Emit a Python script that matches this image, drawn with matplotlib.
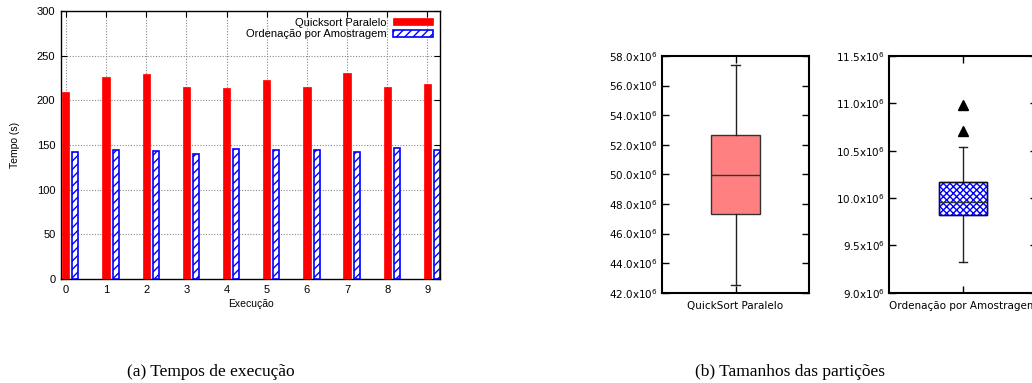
import numpy as np
import matplotlib
matplotlib.use('Agg')
import matplotlib.pyplot as plt
from matplotlib.ticker import FuncFormatter

# execution times (s)
runs = np.arange(10)
quick = [209, 226, 229, 215, 213.5, 222.5, 215, 230.5, 215, 218.5]
amostra = [142, 144.2, 143.1, 139.8, 145, 143.9, 143.9, 142, 146.8, 144.2]

# partition sizes (box stats)
qs_box = dict(med=49.97e6, q1=47.30e6, q3=52.65e6, whislo=42.53e6, whishi=57.42e6,
              fliers=[], label='QuickSort Paralelo')
am_box = dict(med=9.962e6, q1=9.82e6, q3=10.166e6, whislo=9.327e6, whishi=10.54e6,
              fliers=[10.979e6, 10.708e6], label='Ordenação por Amostragem')

plt.rcParams['hatch.linewidth'] = 1.0
fig = plt.figure(figsize=(10.32, 3.83), dpi=100)

# ---- (a) bar chart ----
ax = fig.add_axes([0.0591, 0.2715, 0.3672, 0.6997])
hfont = 'Liberation Sans'
ax.bar(runs, quick, width=0.18, color='#ff0000', edgecolor='#ff0000', lw=0.5,
       label='Quicksort Paralelo', zorder=3)
ax.bar(runs + 0.24, amostra, width=0.15, color='white', edgecolor='#0000ff', lw=1.2,
       hatch='////', label='Ordenação por Amostragem', zorder=3)
ax.set_xlim(-0.12, 9.31)
ax.set_ylim(0, 300)
ax.set_xticks(runs)
ax.set_yticks(np.arange(0, 301, 50))
ax.grid(True, color='#888888', ls=(0, (1, 1.5)), lw=0.8, zorder=0)
ax.tick_params(direction='in', top=True, right=True, length=4, width=0.8,
               labelsize=8, pad=4)
for t in ax.get_xticklabels() + ax.get_yticklabels():
    t.set_fontfamily(hfont)
ax.set_xlabel('Execução', fontsize=7.5, family=hfont, labelpad=3)
ax.set_ylabel('Tempo (s)', fontsize=7.5, family=hfont, labelpad=12)
for s in ax.spines.values():
    s.set_linewidth(1.0)
leg = ax.legend(loc='upper right', frameon=False, markerfirst=False,
                prop={'family': hfont, 'size': 8}, handlelength=3.6, handleheight=0.6,
                borderaxespad=0.2, labelspacing=0.15, handletextpad=0.6)

# ---- (b) box plots ----
def fmt_mill(dec):
    return FuncFormatter(lambda v, p: ('%.' + str(dec) + 'f') % (v / 1e6) + 'x10$^6$')

def box_axes(rect, stats, ylim, step, dec, face, hatch):
    bx = fig.add_axes(rect)
    bp = bx.bxp([stats], positions=[1], widths=0.33, patch_artist=True,
                showfliers=True,
                boxprops=dict(facecolor=face, edgecolor='#333333', lw=1.0, hatch=hatch),
                medianprops=dict(color='#333333', lw=1.0),
                whiskerprops=dict(color='#222222', lw=1.0),
                capprops=dict(color='#222222', lw=1.0),
                flierprops=dict(marker='^', markerfacecolor='black',
                                markeredgecolor='black', markersize=7))
    for c in bp['caps']:
        m = np.mean(c.get_xdata())
        c.set_xdata([m - 0.03, m + 0.03])
    bx.set_xlim(0.5, 1.5)
    bx.set_ylim(*ylim)
    bx.set_yticks(np.arange(ylim[0], ylim[1] + step / 2, step))
    bx.yaxis.set_major_formatter(fmt_mill(dec))
    bx.tick_params(direction='in', top=True, right=True, length=5, width=1.0,
                   labelsize=7.5, pad=3)
    bx.tick_params(axis='x', pad=6)
    for s in bx.spines.values():
        s.set_linewidth(1.5)
    return bx, bp

bx1, bp1 = box_axes([0.6412, 0.2358, 0.1430, 0.618], qs_box, (42e6, 58e6), 2e6, 1,
                    '#ff8080', None)
bx2, bp2 = box_axes([0.8617, 0.2358, 0.1430, 0.618], am_box, (9.0e6, 11.5e6), 0.5e6, 1,
                    'white', 'xxxxx')
bp2['boxes'][0].set_edgecolor('#0000ff')
bx2.add_patch(plt.Rectangle((1 - 0.165, am_box['q1']), 0.33, am_box['q3'] - am_box['q1'],
                            fill=False, edgecolor='#111111', lw=1.0, zorder=5))

# captions
cap = dict(family='Liberation Serif', fontsize=12.5, ha='center', va='baseline')
fig.text(211 / 1032, 1 - 376 / 383, '(a) Tempos de execução', **cap)
fig.text(790 / 1032, 1 - 376 / 383, '(b) Tamanhos das partições', **cap)

fig.savefig('out.png', dpi=100)
